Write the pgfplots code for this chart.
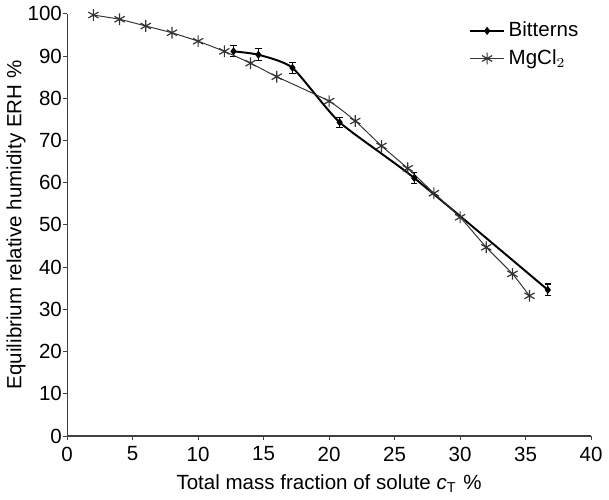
\documentclass[border=0pt]{standalone}
\usepackage{fontspec}
\setmainfont{Liberation Sans}
\usepackage{pgfplots}
\pgfplotsset{compat=1.18}

\begin{document}
\begin{tikzpicture}
\begin{axis}[
    scale only axis,
    width=268pt, height=216pt,
    xmin=0, xmax=40, ymin=0, ymax=100,
    xtick={0,5,...,40}, ytick={0,10,...,100},
    axis x line*=bottom, axis y line*=left,
    axis line style={black!75, line width=0.6pt},
    tick style={black!75, line width=0.5pt},
    tick align=outside, major tick length=2pt,
    /pgf/number format/assume math mode=true,
    tick label style={font=\fontsize{10.5}{12}\selectfont},
    yticklabel style={inner xsep=0.5pt},
    label style={font=\fontsize{10.5}{12}\selectfont},
    xlabel={Total mass fraction of solute \textit{c}$_{\mathrm{T}}$\,\,\%},
    ylabel={Equilibrium relative humidity ERH \%},
    xlabel style={yshift=0pt},
    ylabel style={yshift=-3pt},
    legend style={at={(0.995,1.0)}, anchor=north east, draw=none, fill=none,
        font=\fontsize{10.5}{12}\selectfont, row sep=1pt},
    legend cell align=left,
]
% Bitterns (with error bars)
\addplot[black, line width=1pt, smooth, tension=0.35,
    mark=diamond*, mark size=1.3pt,
    error bars/.cd, y dir=both, y explicit,
    error bar style={line width=0.6pt, black}, error mark options={rotate=90, mark size=1.6pt, line width=0.6pt}]
    table[x=x, y=y, y error=e] {
x y e
12.7 91.1 1.3
14.6 90.3 1.4
17.2 87.2 1.3
20.8 74.3 1.2
26.5 61.1 1.3
36.7 34.6 1.4
};
\addlegendentry{Bitterns}
% MgCl2
\addplot[black!80, line width=0.5pt, smooth, tension=0.3,
    mark=asterisk, mark size=3pt, mark options={line width=0.6pt}]
    coordinates {
(2,99.7) (4,98.7) (6,97.1) (8,95.5) (10,93.5) (12,91.1) (14,88.3)
(16,85.1) (20,79.3) (22,74.6) (24,68.7) (26,63.4) (28,57.5)
(30,51.8) (32,44.7) (34,38.4) (35.3,33.2)
};
\addlegendentry{MgCl$_2$}
\end{axis}
\end{tikzpicture}
\end{document}
